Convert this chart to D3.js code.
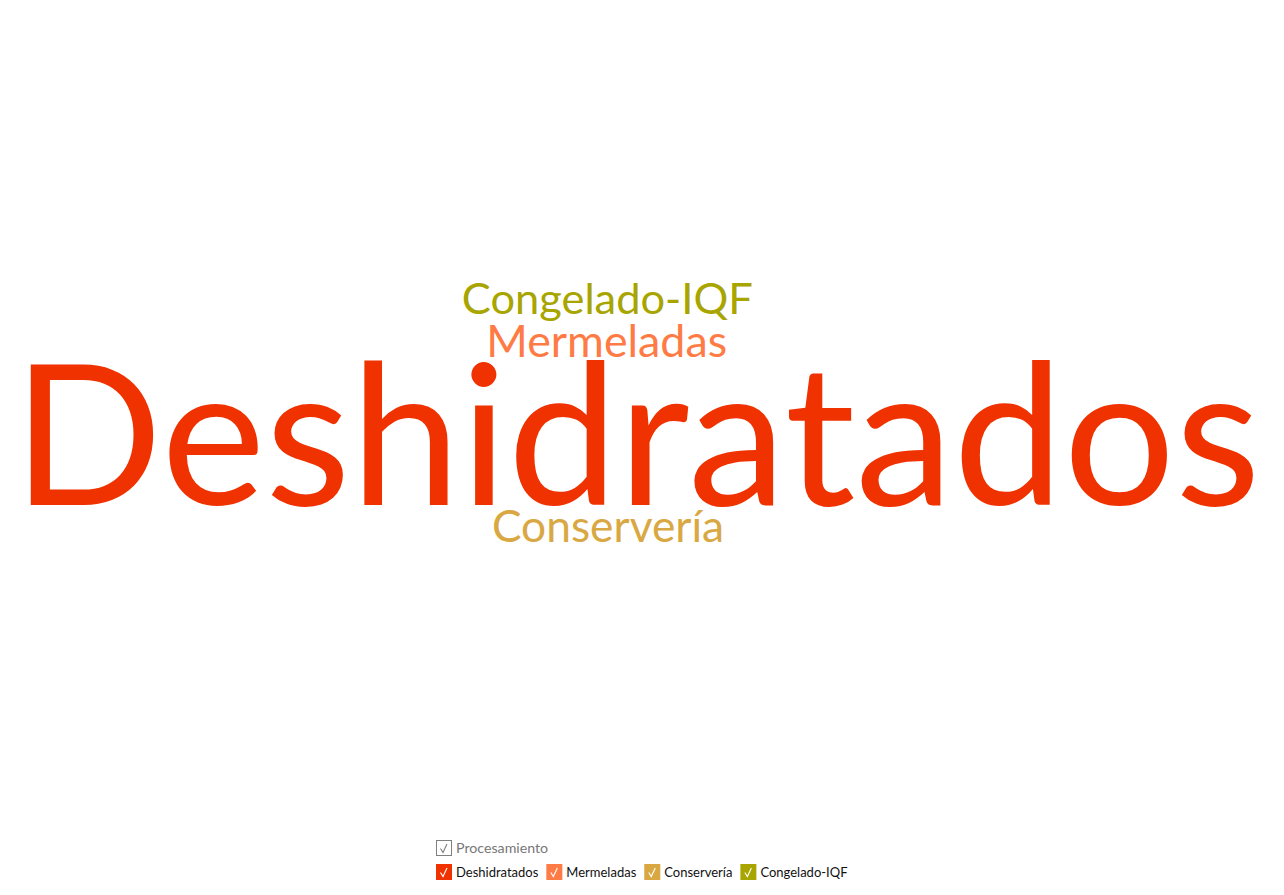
<!DOCTYPE html>
<html>
<head>
<meta charset="utf-8">
<script src="https://cdn.jsdelivr.net/npm/d3@7"></script>
<style>
  html, body { margin: 0; padding: 0; background: #fff; }
  svg { display: block; font-family: Lato, "Open Sans", sans-serif; }
</style>
</head>
<body>
<svg id="chart" width="1284" height="895"></svg>
<script>
// ---- data ----
const legendTitle = "Procesamiento";
const words = ["Deshidratados", "Mermeladas", "Conservería", "Congelado-IQF"];
const values = [44, 10, 9.9, 9.7];
const colors = ["#F03200", "#FF7B45", "#D9A843", "#A8A400"];

// ---- layout ----
const W = 1284, H = 895;
const plotBottom = 824;
const maxFont = 197;
const pad = 3;
const svg = d3.select("#chart");

const size = d3.scaleLinear().domain([0, d3.max(values)]).range([0, maxFont]);

const ctx = document.createElement("canvas").getContext("2d");
function measure(text, fs) {
  ctx.font = `400 ${fs}px Lato`;
  const m = ctx.measureText(text);
  return { w: m.width, asc: m.actualBoundingBoxAscent, desc: m.actualBoundingBoxDescent,
           left: m.actualBoundingBoxLeft, right: m.actualBoundingBoxRight };
}

const items = words.map((w, i) => {
  const fs = size(values[i]);
  return { text: w, value: values[i], color: colors[i], fs, ...measure(w, fs) };
});
const order = d3.range(items.length).sort((a, b) => d3.descending(items[a].value, items[b].value));

// stack words above / below the main one (tight glyph boxes)
const cx = W / 2;
const sideShift = -34;
let stackTop = 0, stackBottom = 0;
order.forEach((idx, k) => {
  const it = items[idx];
  const inkCentre = (it.right - it.left) / 2;
  if (k === 0) { it.y = 0; it.x = cx - inkCentre; stackTop = -it.asc; stackBottom = it.desc; return; }
  it.x = cx + sideShift - inkCentre;
  if (k % 2 === 1) { it.y = stackTop - pad - it.desc; stackTop = it.y - it.asc; }
  else { it.y = stackBottom + pad + it.asc; stackBottom = it.y + it.desc; }
});
const offsetY = plotBottom / 2 - (stackTop + stackBottom) / 2;

svg.append("g").selectAll("text")
  .data(order.map(i => items[i]))
  .join("text")
  .attr("x", d => d.x)
  .attr("y", d => d.y + offsetY)
  .attr("text-anchor", "start")
  .attr("font-size", d => d.fs)
  .attr("fill", d => d.color)
  .text(d => d.text);

// ---- legend ----
const box = 16, legFs = 13, titleFs = 14.2, rowY1 = 840, rowY2 = 864, gapText = 4, gapItem = 8;
ctx.font = `400 ${legFs}px Lato`;
const legendWidths = words.map(w => box + gapText + ctx.measureText(w).width);
const totalW = d3.sum(legendWidths) + gapItem * (words.length - 1);
const lx0 = Math.round(W / 2 - totalW / 2);
const legend = svg.append("g");

const check = (g, x, y, col) => g.append("path")
  .attr("d", `M${x + 4.5},${y + 8.5} L${x + 7},${y + 12.5} L${x + 11},${y + 4}`)
  .attr("fill", "none").attr("stroke", col).attr("stroke-width", 1.1);

// title
legend.append("rect").attr("x", lx0 + 0.5).attr("y", rowY1 + 0.5).attr("width", box - 1).attr("height", box - 1)
  .attr("fill", "#fff").attr("stroke", "#808080");
check(legend, lx0, rowY1, "#808080");
legend.append("text").attr("x", lx0 + box + gapText).attr("y", rowY1 + 13)
  .attr("font-size", titleFs).attr("fill", "#777").text(legendTitle);

let xx = lx0;
words.forEach((w, i) => {
  const g = legend.append("g");
  g.append("rect").attr("x", xx).attr("y", rowY2).attr("width", box).attr("height", box).attr("fill", colors[i]);
  check(g, xx, rowY2, "#fff");
  g.append("text").attr("x", xx + box + gapText).attr("y", rowY2 + 12.5)
    .attr("font-size", legFs).attr("fill", "#111").text(w);
  xx += legendWidths[i] + gapItem;
});
</script>
</body>
</html>
